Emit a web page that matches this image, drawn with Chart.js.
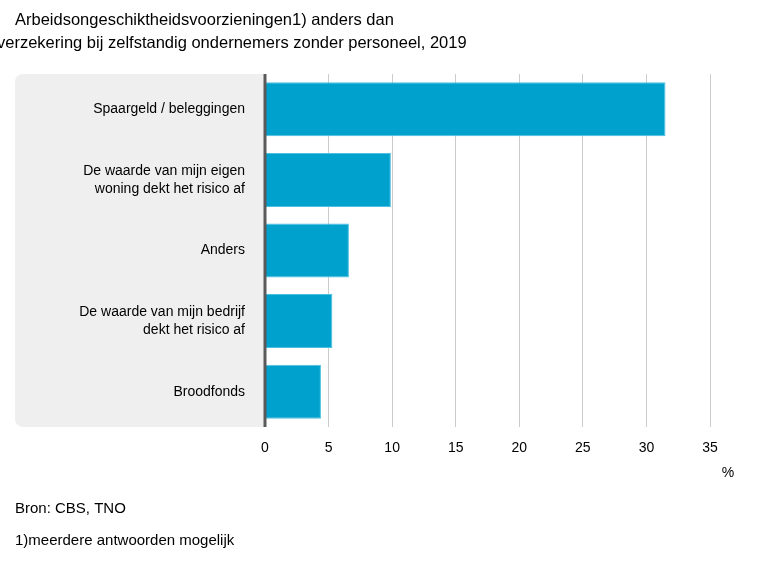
<!DOCTYPE html>
<html lang="nl">
  <head>
    <meta charset="UTF-8" />
    <title>Arbeidsongeschiktheidsvoorzieningen</title>
    <script src="https://cdn.jsdelivr.net/npm/chart.js"></script>
    <style>
      html, body { margin: 0; padding: 0; background: #fff; }
      #wrap { position: relative; width: 768px; height: 576px; }
    </style>
  </head>
  <body>
    <div id="wrap"><canvas id="chart" width="768" height="576"></canvas></div>
    <script>
      const categories = [
        "Spaargeld / beleggingen",
        ["De waarde van mijn eigen", "woning dekt het risico af"],
        "Anders",
        ["De waarde van mijn bedrijf", "dekt het risico af"],
        "Broodfonds",
      ];
      const values = [31.5, 9.9, 6.6, 5.3, 4.4];
      const titleLines = [
        "Arbeidsongeschiktheidsvoorzieningen1) anders dan",
        "verzekering bij zelfstandig ondernemers zonder personeel, 2019",
      ];
      const notes = ["Bron: CBS, TNO", "1)meerdere antwoorden mogelijk"];
      const unit = "%";

      const FONT = "'Liberation Sans', Arial, sans-serif";

      // grey panel behind the category labels + extra texts
      const decor = {
        id: "decor",
        beforeDraw(chart) {
          const { ctx, chartArea } = chart;
          ctx.save();
          ctx.fillStyle = "#efefef";
          const x0 = 15, x1 = chartArea.left, y0 = chartArea.top, y1 = chartArea.bottom, r = 8;
          ctx.beginPath();
          ctx.moveTo(x0 + r, y0);
          ctx.lineTo(x1, y0);
          ctx.lineTo(x1, y1);
          ctx.lineTo(x0 + r, y1);
          ctx.arcTo(x0, y1, x0, y1 - r, r);
          ctx.lineTo(x0, y0 + r);
          ctx.arcTo(x0, y0, x0 + r, y0, r);
          ctx.fill();
          ctx.restore();
        },
        afterDraw(chart) {
          const { ctx, chartArea } = chart;
          ctx.save();
          // y axis line
          ctx.strokeStyle = "#5a5a5a";
          ctx.lineWidth = 3;
          ctx.beginPath();
          ctx.moveTo(chartArea.left, chartArea.top);
          ctx.lineTo(chartArea.left, chartArea.bottom);
          ctx.stroke();

          ctx.fillStyle = "#000";
          ctx.textBaseline = "middle";
          ctx.font = "16.5px " + FONT;
          ctx.fillText(titleLines[0], 15, 20);
          ctx.fillText(titleLines[1], -3, 43);
          ctx.font = "15px " + FONT;
          ctx.fillText(notes[0], 15, 509);
          ctx.fillText(notes[1], 15, 541);
          ctx.font = "14px " + FONT;
          ctx.textAlign = "center";
          ctx.fillText(unit, 728, 473);
          ctx.restore();
        },
      };

      new Chart(document.getElementById("chart"), {
        type: "bar",
        data: {
          labels: categories,
          datasets: [
            {
              data: values,
              backgroundColor: "#00a1cd",
              borderColor: "#4cc0e0",
              borderWidth: 1,
              borderSkipped: "left",
              barPercentage: 0.765,
              categoryPercentage: 1,
            },
          ],
        },
        options: {
          indexAxis: "y",
          responsive: false,
          animation: false,
          layout: { padding: { top: 74, left: 15, right: 58, bottom: 109 } },
          plugins: { legend: { display: false }, tooltip: { enabled: false } },
          scales: {
            x: {
              min: 0,
              max: 35,
              ticks: {
                stepSize: 5,
                color: "#000",
                font: { family: FONT, size: 14 },
                padding: 13,
              },
              grid: { color: "#cccccc", drawTicks: false, lineWidth: 1 },
              border: { display: false },
              afterFit(scale) { scale.height = 40; },
            },
            y: {
              ticks: {
                color: "#000",
                font: { family: FONT, size: 14, lineHeight: 1.3 },
                padding: 12,
              },
              grid: { display: false },
              border: { display: false },
              afterFit(scale) { scale.width = 250; },
            },
          },
        },
        plugins: [decor],
      });
    </script>
  </body>
</html>
